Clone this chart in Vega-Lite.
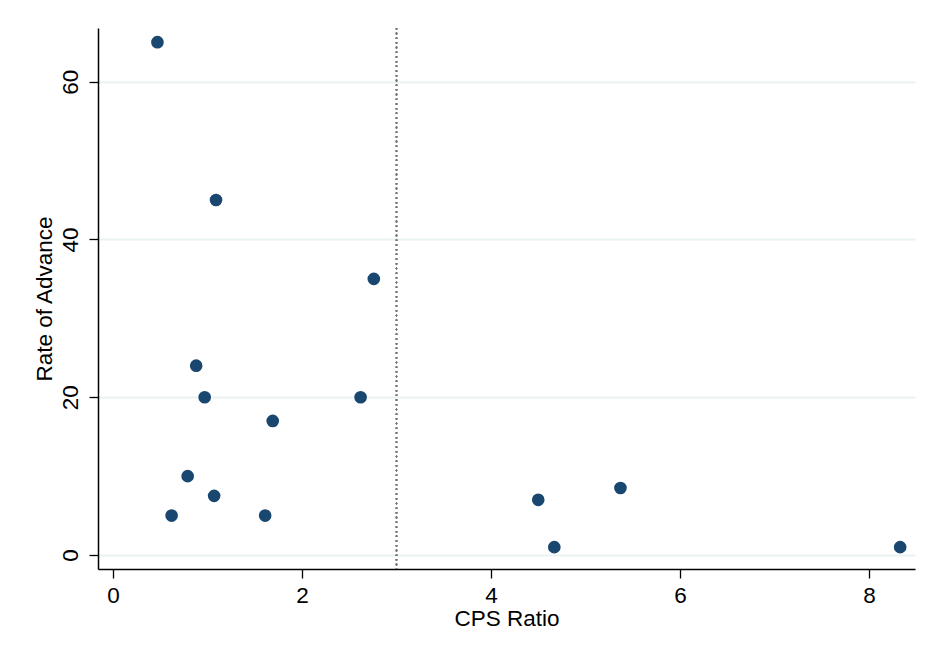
{
  "$schema": "https://vega.github.io/schema/vega-lite/v6.json",
  "width": 817,
  "height": 541,
  "autosize": {"type": "none"},
  "padding": {"left": 98, "top": 28, "right": 12, "bottom": 84},
  "background": "white",
  "config": {
    "view": {"stroke": null},
    "font": "Liberation Sans"
  },
  "data": {
    "values": [
      {"cps": 0.47, "rate": 65},
      {"cps": 1.09, "rate": 45},
      {"cps": 2.76, "rate": 35},
      {"cps": 0.88, "rate": 24},
      {"cps": 0.97, "rate": 20},
      {"cps": 2.62, "rate": 20},
      {"cps": 1.69, "rate": 17},
      {"cps": 0.79, "rate": 10},
      {"cps": 1.07, "rate": 7.5},
      {"cps": 0.62, "rate": 5},
      {"cps": 1.61, "rate": 5},
      {"cps": 4.5, "rate": 7},
      {"cps": 5.37, "rate": 8.5},
      {"cps": 4.67, "rate": 1},
      {"cps": 8.33, "rate": 1}
    ]
  },
  "layer": [
    {
      "mark": {"type": "rule", "color": "#777777", "strokeDash": [1.5, 3.2], "strokeWidth": 1.2},
      "encoding": {"x": {"datum": 3, "type": "quantitative"}}
    },
    {
      "mark": {"type": "circle", "size": 160, "opacity": 1, "color": "#1a476f"},
      "encoding": {
        "x": {
          "field": "cps",
          "type": "quantitative",
          "title": "CPS Ratio",
          "scale": {"domain": [-0.159, 8.487], "nice": false, "zero": false},
          "axis": {
            "values": [0, 2, 4, 6, 8],
            "format": "d",
            "grid": false,
            "domainColor": "black",
            "domainWidth": 1.5,
            "tickColor": "black",
            "tickWidth": 1.3,
            "tickSize": 9,
            "labelFontSize": 22.5,
            "labelColor": "black",
            "labelPadding": 6,
            "titleFontSize": 22.5,
            "titleFontWeight": "normal",
            "titleColor": "black",
            "titlePadding": 1
          }
        },
        "y": {
          "field": "rate",
          "type": "quantitative",
          "title": "Rate of Advance",
          "scale": {"domain": [-1.77, 66.8], "nice": false, "zero": false},
          "axis": {
            "values": [0, 20, 40, 60],
            "format": "d",
            "grid": true,
            "gridColor": "#eaf2f3",
            "gridWidth": 2,
            "domainColor": "black",
            "domainWidth": 1.5,
            "tickColor": "black",
            "tickWidth": 1.3,
            "tickSize": 9,
            "labelAngle": -90,
            "labelAlign": "center",
            "labelBaseline": "bottom",
            "labelFontSize": 22.5,
            "labelColor": "black",
            "labelPadding": 7,
            "titleFontSize": 22.5,
            "titleFontWeight": "normal",
            "titleColor": "black",
            "titlePadding": 3
          }
        }
      }
    }
  ]
}
